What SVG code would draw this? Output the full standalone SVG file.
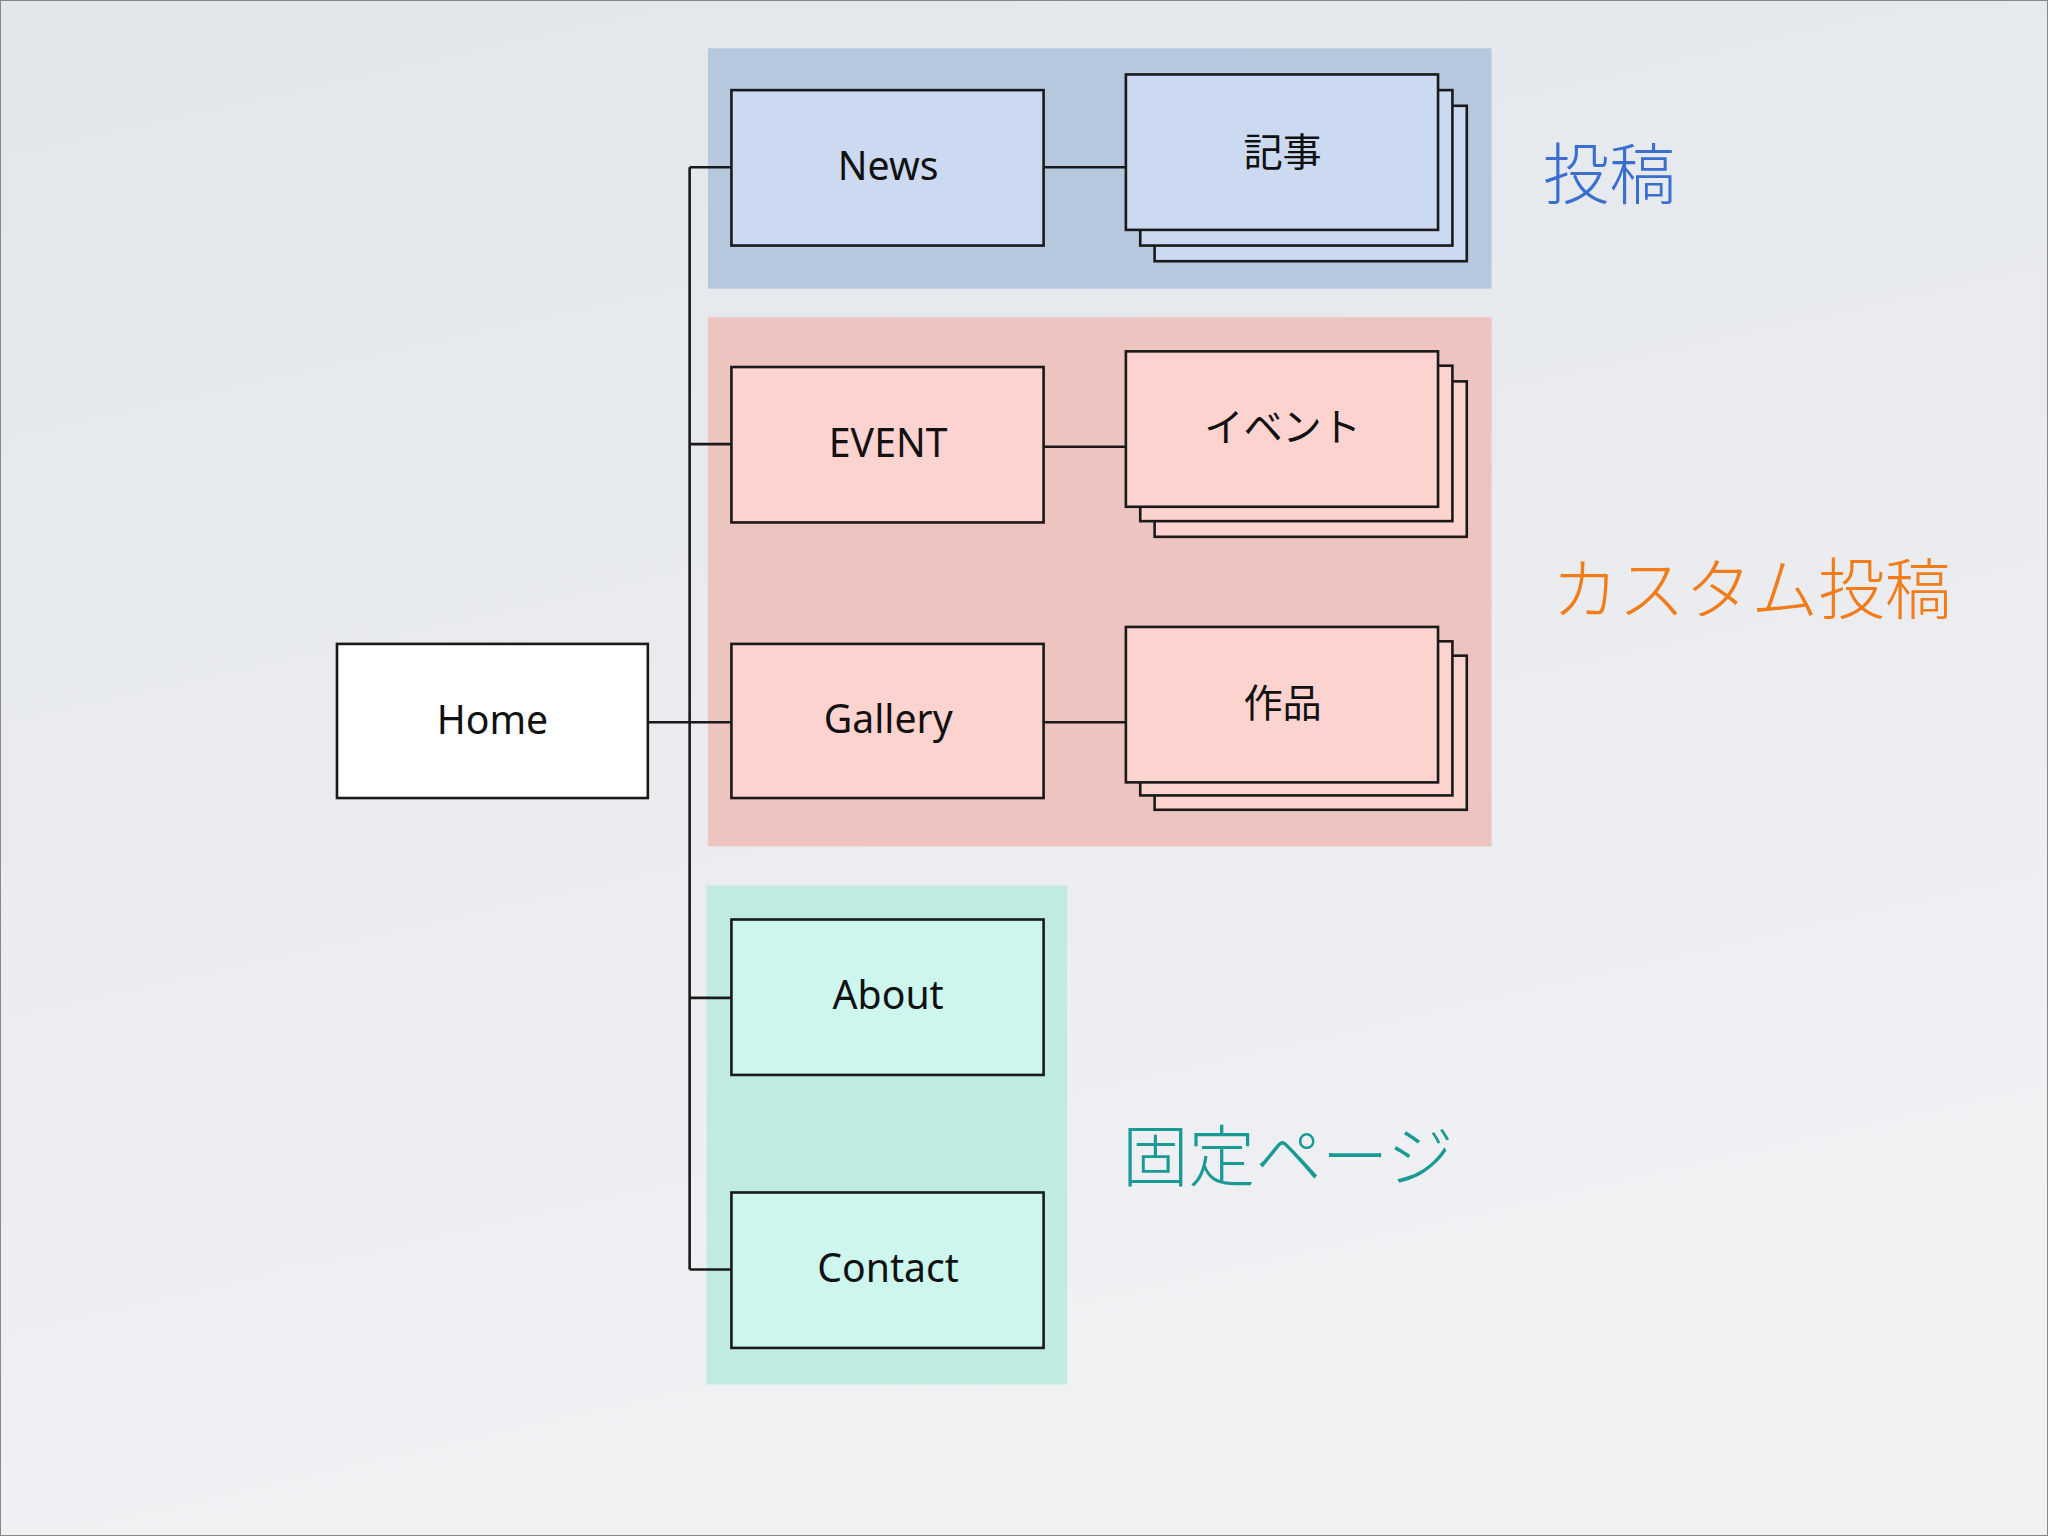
<svg xmlns="http://www.w3.org/2000/svg" width="2048" height="1536" viewBox="0 0 2048 1536">
<defs>
<linearGradient id="bg" x1="0" y1="0" x2="0.3" y2="1">
<stop offset="0" stop-color="#e2e6eb"/><stop offset="0.5" stop-color="#e9ebee"/><stop offset="1" stop-color="#f1f1f4"/>
</linearGradient>
<style>
.b{stroke:#1a1a1a;stroke-width:2}
.bl{fill:#cbdaf0}.pk{fill:#fdd3cf}.gr{fill:#cdf6ee}
.t{font-family:"Noto Sans","Noto Sans CJK JP",sans-serif;font-size:30px;fill:#111;text-anchor:middle;dominant-baseline:central}
.big{font-family:"Noto Sans CJK JP","Noto Sans",sans-serif;font-size:51px;font-weight:300;dominant-baseline:central}
.ln{stroke:#1a1a1a;stroke-width:2;fill:none}
</style>
</defs>
<rect width="2048" height="1536" fill="url(#bg)"/>
<rect x="0.5" y="0.5" width="2047" height="1535" fill="none" stroke="#888"/>
<g transform="scale(1.30612)">
<g id="regions">
<rect x="542" y="37" width="600" height="184" fill="#b6c8de"/>
<rect x="542" y="243" width="600" height="405" fill="#eec4c1"/>
<rect x="541" y="678" width="276" height="382" fill="#bfebe1"/>
</g>
<g id="connectors">
<path class="ln" d="M528 128V972M528 128H560M528 340H560M496 553H560M528 764H560M528 972H560M799 128H862M799 342H862M799 553H862"/>
</g>
<g id="home"><rect class="b" x="258" y="493" width="238" height="118" fill="#fff"/><text class="t" x="377" y="550">Home</text></g>
<g id="news"><rect class="b bl" x="560" y="69" width="239" height="119"/><text class="t" x="680" y="126">News</text></g>
<g id="kiji"><rect class="b bl" x="884" y="81" width="239" height="119"/><rect class="b bl" x="873" y="69" width="239" height="119"/><rect class="b bl" x="862" y="57" width="239" height="119"/><text class="t" x="982" y="115">記事</text></g>
<g id="event"><rect class="b pk" x="560" y="281" width="239" height="119"/><text class="t" x="680" y="338">EVENT</text></g>
<g id="ibento"><rect class="b pk" x="884" y="292" width="239" height="119"/><rect class="b pk" x="873" y="280" width="239" height="119"/><rect class="b pk" x="862" y="269" width="239" height="119"/><text class="t" x="982" y="326">イベント</text></g>
<g id="gallery"><rect class="b pk" x="560" y="493" width="239" height="118"/><text class="t" x="680" y="549">Gallery</text></g>
<g id="sakuhin"><rect class="b pk" x="884" y="502" width="239" height="118"/><rect class="b pk" x="873" y="491" width="239" height="118"/><rect class="b pk" x="862" y="480" width="239" height="119"/><text class="t" x="982" y="537">作品</text></g>
<g id="about"><rect class="b gr" x="560" y="704" width="239" height="119"/><text class="t" x="680" y="761">About</text></g>
<g id="contact"><rect class="b gr" x="560" y="913" width="239" height="119"/><text class="t" x="680" y="970">Contact</text></g>
<g id="labels">
<text class="big" x="1181" y="130" fill="#3a6fd0">投稿</text>
<text class="big" x="1188" y="448" fill="#f07d1a">カスタム投稿</text>
<text class="big" x="859" y="882" fill="#1a9a95">固定ページ</text>
</g>
</g>
</svg>
